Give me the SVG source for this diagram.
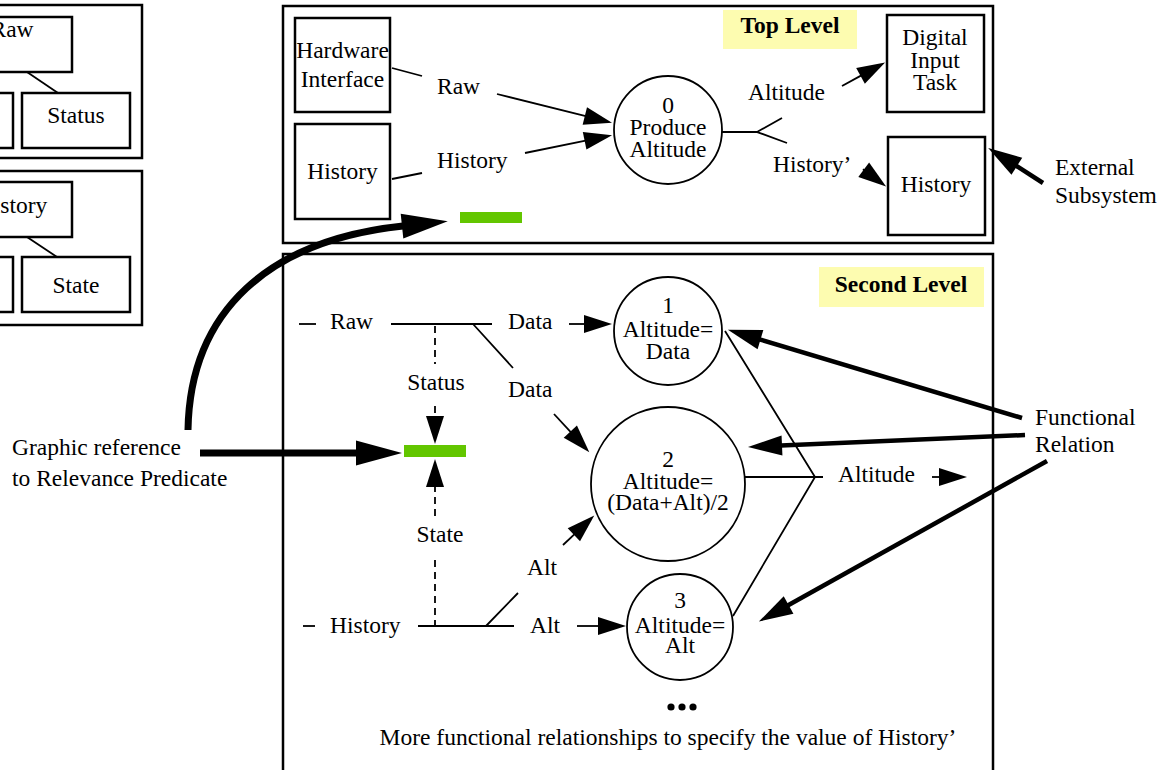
<svg xmlns="http://www.w3.org/2000/svg" width="1168" height="770" viewBox="0 0 1168 770">
<style>
text{font-family:"Liberation Serif","DejaVu Serif","Noto Serif",Tinos,"Times New Roman",serif;font-size:23.5px;fill:#000}
.c{text-anchor:middle}
.b{font-weight:bold}
.panel{fill:#fff;stroke:#000;stroke-width:2.5}
.box{fill:#fff;stroke:#000;stroke-width:2.5}
.circ{fill:#fff;stroke:#000;stroke-width:1.8}
.ln{fill:none;stroke:#000;stroke-width:1.8}
.dash{fill:none;stroke:#000;stroke-width:1.8;stroke-dasharray:7 5}
.thick{fill:none;stroke:#000;stroke-width:4.5}
.big{fill:none;stroke:#000;stroke-width:7}
.lbl{fill:#fdfcb0}
.green{fill:#63c600}
.dots{fill:#000}
</style>
<defs>
<marker id="aT" markerUnits="userSpaceOnUse" markerWidth="28" markerHeight="18" refX="1" refY="9" orient="auto" overflow="visible"><path d="M0,0 L28,9 L0,18 z" fill="#000"/></marker>
<marker id="aK" markerUnits="userSpaceOnUse" markerWidth="34" markerHeight="20" refX="1" refY="10" orient="auto" overflow="visible"><path d="M0,0 L34,10 L0,20 z" fill="#000"/></marker>
<marker id="aB" markerUnits="userSpaceOnUse" markerWidth="46" markerHeight="25" refX="1" refY="12.5" orient="auto" overflow="visible"><path d="M0,0 L46,12.5 L0,25 z" fill="#000"/></marker>
</defs>
<rect width="1168" height="770" fill="#fff"/>

<g id="left-panel-raw">
<rect class="panel" x="-10" y="5" width="152" height="153"/>
<rect class="box" x="-48" y="17" width="120" height="55"/>
<text class="c" x="12" y="37">Raw</text>
<rect class="box" x="-40" y="93" width="53" height="55"/>
<rect class="box" x="22" y="93" width="108" height="55"/>
<text class="c" x="76" y="123">Status</text>
<path class="ln" d="M27,72 L58,93"/>
</g>
<g id="left-panel-history">
<rect class="panel" x="-10" y="171" width="152" height="154"/>
<rect class="box" x="-48" y="182" width="120" height="55"/>
<text class="c" x="12" y="213">History</text>
<rect class="box" x="-40" y="257" width="53" height="55"/>
<rect class="box" x="22" y="257" width="108" height="55"/>
<text class="c" x="76" y="293">State</text>
<path class="ln" d="M27,237 L57,257"/>
</g>

<g id="top-level-panel">
<rect class="panel" x="283" y="6" width="710" height="237"/>
<rect class="lbl" x="723" y="10" width="134" height="39"/>
<text class="c b" x="790" y="33">Top Level</text>
</g>
<g id="second-level-panel">
<rect class="panel" x="283" y="254" width="710" height="560"/>
<rect class="lbl" x="819" y="267" width="165" height="40"/>
<text class="c b" x="901" y="292">Second Level</text>
</g>

<g id="hardware-interface">
<rect class="box" x="295" y="18" width="95" height="94"/>
<text class="c" x="342.5" y="58">Hardware</text>
<text class="c" x="342.5" y="87">Interface</text>
</g>
<g id="history-top-left">
<rect class="box" x="295" y="124" width="95" height="95"/>
<text class="c" x="342.5" y="179">History</text>
</g>
<g id="produce-altitude">
<circle class="circ" cx="668" cy="130" r="54"/>
<text class="c" x="668" y="113">0</text>
<text class="c" x="668" y="135">Produce</text>
<text class="c" x="668" y="157">Altitude</text>
</g>
<g id="digital-input-task">
<rect class="box" x="887" y="15" width="97" height="97"/>
<text class="c" x="935" y="45">Digital</text>
<text class="c" x="935" y="68">Input</text>
<text class="c" x="935" y="90">Task</text>
</g>
<g id="history-top-right">
<rect class="box" x="888" y="137" width="97" height="98"/>
<text class="c" x="936" y="192">History</text>
</g>
<g id="external-subsystem">
<text x="1055" y="175">External</text>
<text x="1055" y="203">Subsystem</text>
</g>
<g id="relevance-bar-top"><rect class="green" x="460" y="212" width="62" height="11"/></g>

<g id="altitude-1">
<circle class="circ" cx="668" cy="331" r="54"/>
<text class="c" x="668" y="313">1</text>
<text class="c" x="668" y="337">Altitude=</text>
<text class="c" x="668" y="359">Data</text>
</g>
<g id="altitude-2">
<circle class="circ" cx="668" cy="484" r="77"/>
<text class="c" x="668" y="467">2</text>
<text class="c" x="668" y="489">Altitude=</text>
<text class="c" x="668" y="510">(Data+Alt)/2</text>
</g>
<g id="altitude-3">
<circle class="circ" cx="680" cy="627" r="53"/>
<text class="c" x="680" y="608">3</text>
<text class="c" x="680" y="633">Altitude=</text>
<text class="c" x="680" y="653">Alt</text>
</g>
<g id="relevance-bar"><rect class="green" x="404" y="445" width="62" height="12"/></g>
<g id="functional-relation">
<text x="1035" y="425">Functional</text>
<text x="1035" y="452">Relation</text>
</g>
<g id="graphic-reference">
<text x="12" y="455">Graphic reference</text>
<text x="12" y="486">to Relevance Predicate</text>
</g>
<g id="more-relationships">
<circle class="dots" cx="671" cy="707" r="3.6"/>
<circle class="dots" cx="682" cy="707" r="3.6"/>
<circle class="dots" cx="693" cy="707" r="3.6"/>
<text class="c" x="668" y="745">More functional relationships to specify the value of History’</text>
</g>

<g id="connectors">
<path class="ln" d="M392,68 L422,76"/>
<text x="437" y="94">Raw</text>
<path class="ln" d="M497,94 L585.8,116.2" marker-end="url(#aT)"/>
<path class="ln" d="M392,179 L422,173"/>
<text x="437" y="168">History</text>
<path class="ln" d="M525,153 L585.6,140.6" marker-end="url(#aT)"/>
<path class="ln" d="M722,132 H757 M782,118 L757,132 L787,143"/>
<text x="748" y="100">Altitude</text>
<path class="ln" d="M842,86 L861.4,75.4" marker-end="url(#aT)"/>
<text x="773" y="172">History’</text>
<path class="ln" d="M862.9,169.2 L864.5,170.4" marker-end="url(#aT)"/>
<path class="thick" d="M1043,183 L1016,165.7" marker-end="url(#aK)"/>

<path class="ln" d="M299,324 H316"/>
<text x="330" y="329">Raw</text>
<path class="ln" d="M391,324 H492 M473,324 L513,368"/>
<text x="508" y="329">Data</text>
<path class="ln" d="M569,324 H585" marker-end="url(#aT)"/>
<text x="508" y="397">Data</text>
<path class="ln" d="M554,414 L571,432.4" marker-end="url(#aT)"/>
<path class="dash" d="M435,326 V364"/>
<text class="c" x="436" y="390">Status</text>
<path class="dash" d="M435,406 V417" marker-end="url(#aT)"/>
<path class="dash" d="M435,516 V486" marker-end="url(#aT)"/>
<text class="c" x="440" y="542">State</text>
<path class="dash" d="M435,560 V626"/>

<path class="ln" d="M303,626 H315"/>
<text x="330" y="633">History</text>
<path class="ln" d="M418,626 H514 M486,626 L518,593"/>
<text x="527" y="575">Alt</text>
<path class="ln" d="M563,545 L574.6,534.1" marker-end="url(#aT)"/>
<text x="530" y="633">Alt</text>
<path class="ln" d="M577,626 H599" marker-end="url(#aT)"/>

<path class="ln" d="M725,331 L815,477 L733,616 M745,477 H823"/>
<text x="838" y="482">Altitude</text>
<path class="ln" d="M932,477 H940" marker-end="url(#aT)"/>

<path class="thick" d="M1022,418 L759.5,339.3" marker-end="url(#aK)"/>
<path class="thick" d="M1025,435 L781,445.5" marker-end="url(#aK)"/>
<path class="thick" d="M1047,461 L787.7,605.5" marker-end="url(#aK)"/>

<path class="big" d="M200,453 H357" marker-end="url(#aB)"/>
<path class="big" d="M188,430 C190,310 270,240 403,226" marker-end="url(#aB)"/>
</g>
</svg>
